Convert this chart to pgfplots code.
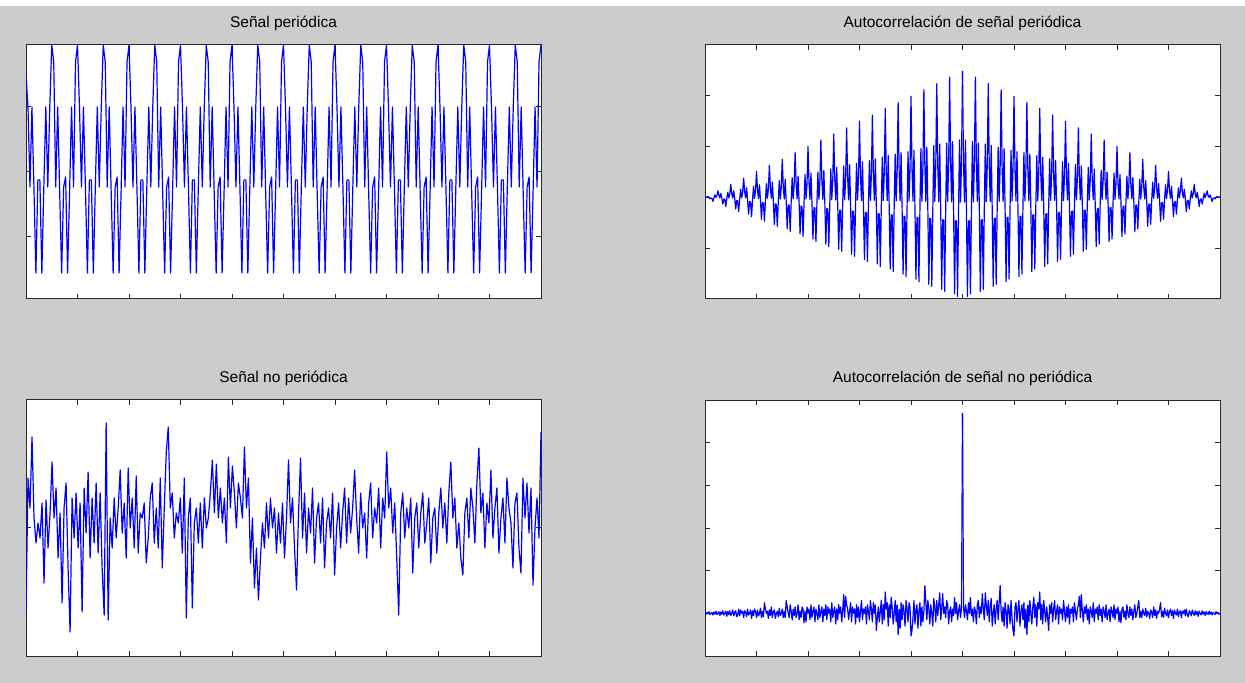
\documentclass[border=0pt]{standalone}
\usepackage{fontspec}
\setmainfont{Liberation Sans}
\usepackage{pgfplots}
\pgfplotsset{compat=1.18}
\usepackage{pgfplotstable}
\definecolor{figbg}{RGB}{204,204,204}
\definecolor{mblue}{RGB}{0,0,255}
\definecolor{frame}{RGB}{40,40,40}

\pgfplotstableread[row sep=\\]{y\\
97\\
65\\-15\\65\\-15\\-101\\-8\\-8\\-101\\-15\\65\\-15\\65\\127\\
110\\-15\\65\\-20\\-101\\-15\\-5\\-101\\-20\\65\\-15\\110\\127\\
65\\-15\\65\\-15\\-101\\-8\\-8\\-101\\-15\\65\\-15\\65\\127\\
110\\-15\\65\\-20\\-101\\-15\\-5\\-101\\-20\\65\\-15\\110\\127\\
65\\-15\\65\\-15\\-101\\-8\\-8\\-101\\-15\\65\\-15\\65\\127\\
110\\-15\\65\\-20\\-101\\-15\\-5\\-101\\-20\\65\\-15\\110\\127\\
65\\-15\\65\\-15\\-101\\-8\\-8\\-101\\-15\\65\\-15\\65\\127\\
110\\-15\\65\\-20\\-101\\-15\\-5\\-101\\-20\\65\\-15\\110\\127\\
65\\-15\\65\\-15\\-101\\-8\\-8\\-101\\-15\\65\\-15\\65\\127\\
110\\-15\\65\\-20\\-101\\-15\\-5\\-101\\-20\\65\\-15\\110\\127\\
65\\-15\\65\\-15\\-101\\-8\\-8\\-101\\-15\\65\\-15\\65\\127\\
110\\-15\\65\\-20\\-101\\-15\\-5\\-101\\-20\\65\\-15\\110\\127\\
65\\-15\\65\\-15\\-101\\-8\\-8\\-101\\-15\\65\\-15\\65\\127\\
110\\-15\\65\\-20\\-101\\-15\\-5\\-101\\-20\\65\\-15\\110\\127\\
65\\-15\\65\\-15\\-101\\-8\\-8\\-101\\-15\\65\\-15\\65\\127\\
110\\-15\\65\\-20\\-101\\-15\\-5\\-101\\-20\\65\\-15\\110\\127\\
65\\-15\\65\\-15\\-101\\-8\\-8\\-101\\-15\\65\\-15\\65\\127\\
110\\-15\\65\\-20\\-101\\-15\\-5\\-101\\-20\\65\\-15\\110\\127\\
65\\-15\\65\\-15\\-101\\-8\\-8\\-101\\-15\\65\\-15\\65\\127\\
110\\-15\\65\\-20\\-101\\-15\\-5\\-101\\-20\\65\\-15\\110\\127\\
}\tsig

\pgfplotstableread[row sep=\\]{y\\
249\\69\\-9\\113\\-27\\-195\\-47\\-46\\-190\\-27\\110\\-9\\68\\
237\\66\\-8\\107\\-26\\-185\\-45\\-44\\-181\\-25\\105\\-8\\64\\
224\\62\\-8\\102\\-25\\-175\\-42\\-41\\-171\\-24\\99\\-8\\61\\
212\\59\\-8\\96\\-23\\-166\\-40\\-39\\-161\\-23\\93\\-7\\57\\
199\\55\\-7\\90\\-22\\-156\\-38\\-37\\-151\\-21\\88\\-7\\54\\
187\\52\\-7\\85\\-20\\-146\\-35\\-34\\-141\\-20\\82\\-6\\50\\
175\\48\\-6\\79\\-19\\-136\\-33\\-32\\-131\\-18\\76\\-6\\47\\
162\\45\\-6\\73\\-18\\-126\\-31\\-29\\-122\\-17\\70\\-6\\43\\
150\\41\\-5\\67\\-16\\-116\\-28\\-27\\-112\\-16\\65\\-5\\40\\
137\\38\\-5\\62\\-15\\-106\\-26\\-25\\-102\\-14\\59\\-5\\36\\
125\\34\\-4\\56\\-14\\-97\\-23\\-22\\-92\\-13\\53\\-4\\33\\
113\\31\\-4\\50\\-12\\-87\\-21\\-20\\-82\\-11\\48\\-4\\29\\
100\\27\\-3\\45\\-11\\-77\\-19\\-17\\-72\\-10\\42\\-3\\26\\
88\\24\\-3\\39\\-9\\-67\\-16\\-15\\-62\\-9\\36\\-3\\22\\
75\\20\\-3\\33\\-8\\-57\\-14\\-13\\-53\\-7\\30\\-2\\19\\
63\\17\\-2\\27\\-7\\-47\\-11\\-10\\-43\\-6\\25\\-2\\15\\
51\\13\\-2\\22\\-5\\-38\\-9\\-8\\-33\\-5\\19\\-1\\12\\
38\\10\\-1\\16\\-4\\-28\\-7\\-6\\-23\\-3\\13\\-1\\8\\
26\\6\\-1\\10\\-2\\-18\\-4\\-3\\-13\\-2\\8\\-1\\5\\
13\\3\\0\\5\\-1\\-8\\-2\\-1\\-3\\0\\2\\0\\1\\
1\\
}\tacp

\pgfplotstableread[row sep=\\]{y\\
-85\\50\\20\\91\\10\\-15\\5\\-10\\25\\-55\\
28\\-20\\15\\66\\10\\40\\-30\\15\\-75\\20\\
45\\-40\\-104\\30\\-10\\35\\-20\\25\\-84\\40\\
-5\\56\\-30\\30\\-15\\45\\-25\\35\\-40\\-87\\
105\\-92\\10\\-20\\30\\-10\\20\\58\\-5\\25\\
-30\\60\\0\\30\\-20\\52\\-25\\15\\10\\25\\
-35\\-10\\30\\45\\-15\\20\\-20\\50\\-40\\20\\
76\\101\\20\\35\\-10\\15\\5\\30\\-25\\50\\
-90\\10\\30\\-80\\5\\20\\-15\\25\\-20\\30\\
0\\10\\35\\68\\15\\64\\10\\40\\5\\30\\
-15\\71\\20\\62\\35\\0\\45\\30\\10\\81\\
20\\50\\-35\\10\\-60\\-20\\-72\\-30\\5\\-20\\
25\\-10\\30\\0\\20\\-25\\15\\-15\\25\\-30\\
10\\68\\5\\30\\-20\\-62\\15\\70\\-10\\35\\
-25\\20\\-5\\40\\-35\\10\\25\\-15\\30\\-40\\
5\\20\\-10\\35\\-47\\0\\25\\-20\\15\\40\\
-15\\30\\-5\\20\\58\\10\\-25\\35\\0\\15\\
-30\\25\\45\\-10\\20\\5\\40\\-20\\30\\10\\
76\\20\\40\\-5\\25\\-30\\-87\\15\\35\\-10\\
20\\0\\30\\-45\\10\\25\\-20\\15\\35\\-15\\
5\\30\\-35\\10\\20\\-25\\15\\40\\0\\25\\
-15\\35\\66\\10\\30\\-20\\5\\-30\\-47\\15\\
30\\-10\\40\\20\\-15\\45\\80\\15\\35\\-20\\
25\\5\\58\\-10\\20\\40\\-25\\10\\30\\-15\\
50\\20\\5\\-40\\25\\35\\-20\\-45\\50\\10\\
45\\-5\\40\\-57\\0\\30\\-10\\96\\
}\tnoise

\pgfplotstableread[row sep=\\]{y\\
470\\
15\\-10\\20\\5\\-15\\25\\0\\37\\-5\\10\\
-20\\15\\5\\-25\\20\\30\\-10\\15\\0\\46\\
10\\-15\\48\\20\\-5\\30\\-20\\15\\35\\-30\\
0\\20\\-25\\10\\30\\-15\\25\\65\\5\\-20\\
15\\-30\\25\\5\\-35\\20\\10\\-25\\30\\-10\\
-40\\-53\\15\\25\\-20\\10\\30\\-30\\5\\20\\
-15\\25\\-35\\10\\-50\\20\\-20\\30\\0\\-25\\
15\\38\\-10\\20\\-30\\25\\10\\50\\-15\\20\\
-25\\30\\5\\-20\\15\\-10\\-40\\20\\0\\25\\
-20\\10\\30\\-15\\5\\20\\-25\\15\\0\\10\\
-15\\30\\5\\-20\\15\\-10\\20\\-25\\10\\0\\
15\\-20\\25\\5\\-15\\10\\20\\40\\-10\\44\\
5\\-20\\15\\0\\20\\-15\\10\\-25\\15\\5\\
-10\\25\\-20\\10\\0\\15\\-15\\20\\-5\\10\\
-20\\15\\5\\-10\\20\\-15\\0\\10\\-20\\15\\
5\\-10\\20\\-15\\10\\0\\15\\-20\\5\\-22\\
10\\15\\-10\\5\\-15\\20\\0\\-10\\15\\-5\\
10\\-15\\5\\20\\-10\\0\\15\\30\\-10\\5\\
-10\\10\\0\\-5\\12\\-8\\5\\0\\-12\\8\\
3\\-10\\15\\-5\\8\\-12\\5\\0\\10\\25\\
-8\\5\\-10\\12\\0\\-6\\8\\-10\\4\\10\\
-5\\6\\-12\\8\\0\\-4\\10\\-8\\3\\6\\
-10\\5\\0\\8\\-6\\10\\-4\\-8\\6\\2\\
-6\\8\\0\\-5\\6\\-3\\4\\-7\\5\\0\\
-4\\6\\-2\\3\\-5\\4\\0\\-3\\5\\-2\\
3\\-4\\2\\0\\-3\\4\\-1\\2\\-2\\0\\
}\tnacp

\pgfplotsset{
  mat/.style={
    scale only axis, width=515bp,
    axis line style={draw=frame, line width=1bp},
    every tick/.style={draw=frame, line width=1bp},
    major tick length=5bp,
    tick align=inside,
    xticklabels={}, yticklabels={},
    axis background/.style={fill=white},
    title style={font=\fontsize{15.5bp}{18bp}\selectfont, anchor=base, yshift=12bp},
    anchor=south west,
  },
  sig/.style={mblue, line width=1.2bp, line join=round, mark=none},
}

\begin{document}
\begin{tikzpicture}
\useasboundingbox (0,0) rectangle (1245bp,683bp);
\fill[figbg] (0,0) rectangle (1245bp,683bp);
\fill[white] (0,677bp) rectangle (1245bp,683bp);

\begin{axis}[mat, at={(26bp,384bp)}, height=254bp,
  xmin=0, xmax=260, ymin=-127, ymax=127,
  xtick={26,52,...,234}, ytick={-65,0,65},
  title={Señal periódica}]
\addplot[sig] table[x expr=\coordindex, y=y]{\tsig};
\end{axis}

\begin{axis}[mat, at={(705bp,384bp)}, height=254bp,
  xmin=-260, xmax=260, ymin=-200, ymax=300,
  xtick={-208,-156,...,208}, ytick={-100,0,100,200},
  title={Autocorrelación de señal periódica}]
\addplot[sig] table[x expr=\coordindex, y=y]{\tacp};
\addplot[sig] table[x expr=-\coordindex, y=y]{\tacp};
\end{axis}

\begin{axis}[mat, at={(26bp,27bp)}, height=256bp,
  xmin=0, xmax=257, ymin=-128, ymax=128,
  xtick={25.7,51.4,77.1,102.8,128.5,154.2,179.9,205.6,231.3}, ytick={0},
  title={Señal no periódica}]
\addplot[sig] table[x expr=\coordindex, y=y]{\tnoise};
\end{axis}

\begin{axis}[mat, at={(705bp,27bp)}, height=256bp,
  xmin=-260, xmax=260, ymin=-100, ymax=500,
  xtick={-208,-156,...,208}, ytick={0,100,200,300,400},
  title={Autocorrelación de señal no periódica}]
\addplot[sig] table[x expr=\coordindex, y=y]{\tnacp};
\addplot[sig] table[x expr=-\coordindex, y=y]{\tnacp};
\end{axis}
\end{tikzpicture}
\end{document}
